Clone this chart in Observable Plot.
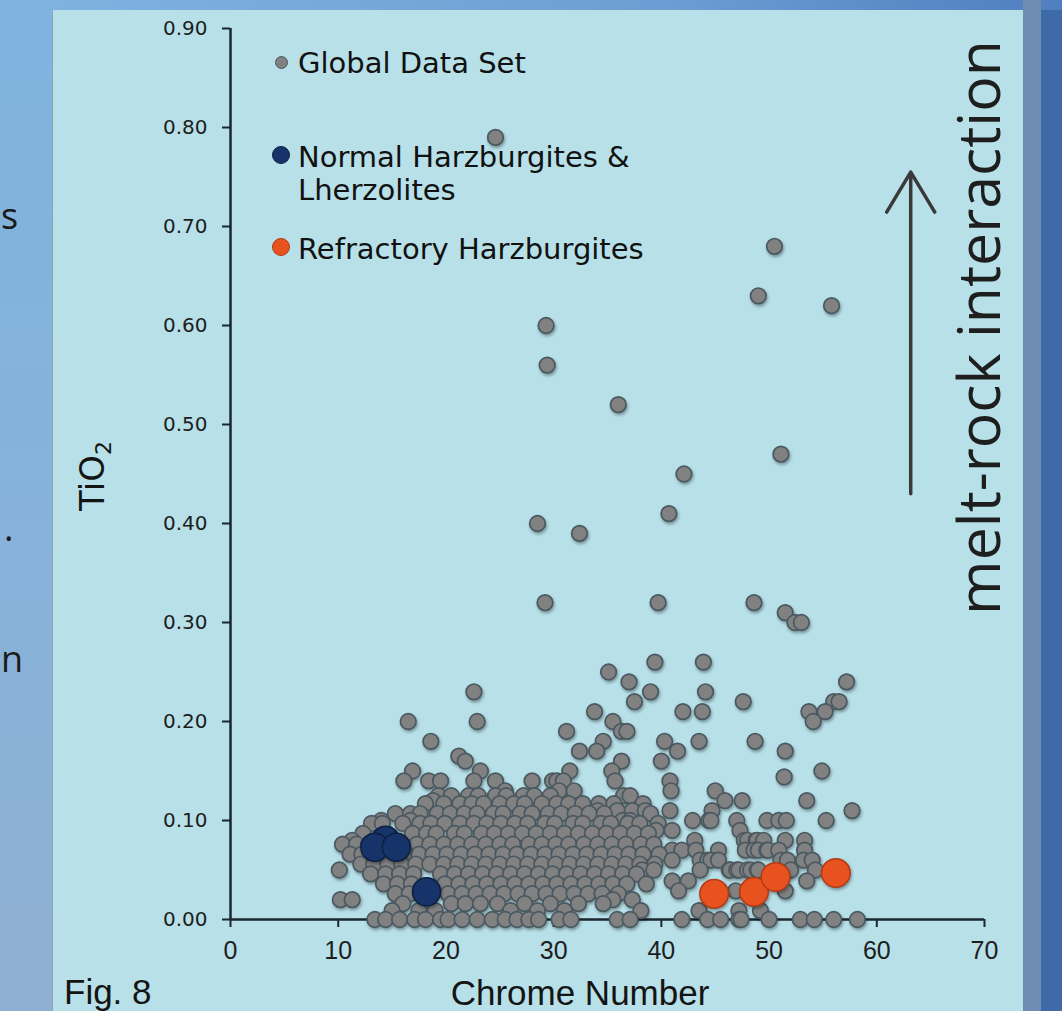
<!DOCTYPE html>
<html>
<head>
<meta charset="utf-8">
<script src="https://cdn.jsdelivr.net/npm/d3@7"></script>
<script src="https://cdn.jsdelivr.net/npm/@observablehq/plot@0.6"></script>
<style>
  html, body { margin: 0; padding: 0; width: 1062px; height: 1011px; overflow: hidden; background: #3e6ba7; font-family: "DejaVu Sans", sans-serif; }
  #leftbg { position: absolute; left: 0; top: 0; width: 52px; height: 1011px; background: linear-gradient(180deg, #7fb3df 0%, #86b2da 50%, #8fb0d2 100%); }
  #topbg { position: absolute; left: 0; top: 0; width: 1062px; height: 10px; background: linear-gradient(90deg, #80b4e0 0%, #6e9fd4 60%, #4f7fbf 100%); }
  #rightstrip { position: absolute; left: 1023px; top: 0; width: 18px; height: 1011px; background: #6f8db3; }
  #panel { position: absolute; left: 52px; top: 10px; width: 971px; height: 1001px; background: #b7e0e8; border-left: 1px solid #8fa6b0; box-sizing: border-box; }
  .frag { position: absolute; font-family: "Open Sans", sans-serif; font-size: 36px; color: #1a1a1a; line-height: 1; }
  #chart { position: absolute; left: 0; top: 0; }
  .lab { position: absolute; color: #141414; white-space: nowrap; line-height: 1; }
  .leg { position: absolute; font-family: "DejaVu Sans", sans-serif; font-size: 29px; color: #111; white-space: nowrap; line-height: 33px; }
  .sw { position: absolute; border-radius: 50%; box-sizing: border-box; }
</style>
</head>
<body>
<div id="leftbg"></div>
<div id="topbg"></div>
<div id="rightstrip"></div>
<div id="panel"></div>
<div class="frag" style="left:1px; top:198px;">s</div>
<div class="frag" style="left:4px; top:510px;">.</div>
<div class="frag" style="left:1px; top:641px;">n</div>
<div id="chart"></div>
<div class="lab" style="left:64px; top:974px; font-size:35px; font-family:'Liberation Sans', sans-serif;">Fig. 8</div>
<div class="lab" id="xlab" style="left:580px; top:975px; font-size:35px; font-family:'Liberation Sans', sans-serif; transform:translateX(-50%);">Chrome Number</div>
<div class="lab" id="ylab" style="left:95px; top:476px; font-size:34px; transform:translate(-50%,-50%) rotate(-90deg);">TiO<sub style="font-size:22px; vertical-align:-7px;">2</sub></div>
<div id="legend"></div>
<script>
// ---- Data ----
const xTicks = [0, 10, 20, 30, 40, 50, 60, 70];
const yTicks = [0, 0.1, 0.2, 0.3, 0.4, 0.5, 0.6, 0.7, 0.8, 0.9];

// Global data set: each row = [TiO2, [Chrome numbers at that TiO2]]
const globalRows = [
  [0.79, [24.6]],
  [0.68, [50.5]],
  [0.63, [49.0]],
  [0.62, [55.8]],
  [0.60, [29.3]],
  [0.56, [29.4]],
  [0.52, [36.0]],
  [0.47, [51.1]],
  [0.45, [42.1]],
  [0.41, [40.7]],
  [0.40, [28.5]],
  [0.39, [32.4]],
  [0.32, [29.2, 39.7, 48.6]],
  [0.31, [51.5]],
  [0.30, [52.4, 53.0]],
  [0.26, [39.4, 43.9]],
  [0.25, [35.1]],
  [0.24, [37.0, 57.2]],
  [0.23, [22.6, 39.0, 44.1]],
  [0.22, [37.5, 47.6, 56.0, 56.5]],
  [0.21, [33.8, 42.0, 43.8, 53.7, 55.2]],
  [0.20, [16.5, 22.9, 35.5, 54.1]],
  [0.19, [31.2, 36.3, 36.8]],
  [0.18, [18.6, 34.6, 40.3, 43.5, 48.7]],
  [0.17, [32.4, 34.0, 41.5, 51.5]],
  [0.165, [21.2]],
  [0.16, [21.8, 36.3, 40.0]],
  [0.15, [16.9, 23.2, 31.5, 35.4, 54.9]],
  [0.144, [51.4]],
  [0.14, [16.1, 18.4, 19.5, 22.6, 24.6, 28.0, 29.9, 30.3, 30.9, 35.7, 40.8]],
  [0.13, [25.5, 30.5, 31.9, 40.9, 45.0]],
  [0.125, [19.3, 20.5, 22.1, 23.0, 24.6, 25.6, 27.2, 28.2, 29.7, 36.5, 37.1]],
  [0.12, [18.8, 45.9, 47.5, 53.5]],
  [0.117, [18.1, 19.8, 21.3, 22.4, 23.5, 25.0, 26.3, 27.3, 28.9, 30.3, 31.4, 32.7, 34.2, 35.6, 38.3]],
  [0.11, [34.1, 35.9, 37.3, 38.5, 40.8, 44.7, 57.7]],
  [0.107, [15.3, 16.7, 17.6, 19.2, 20.4, 21.7, 22.9, 24.4, 25.3, 26.9, 28.0, 29.5, 30.7, 32.0, 33.3, 34.7, 39.0]],
  [0.10, [14.0, 16.7, 36.4, 37.1, 42.9, 44.4, 44.6, 47.0, 49.8, 50.9, 51.6, 55.3]],
  [0.097, [13.1, 14.1, 16.0, 17.6, 18.6, 19.9, 21.3, 22.6, 23.8, 25.1, 26.4, 27.6, 29.2, 30.1, 31.8, 32.7, 34.4, 35.3, 36.9, 38.0, 39.7]],
  [0.09, [39.5, 41.0, 47.3]],
  [0.087, [12.3, 16.9, 18.2, 19.1, 20.8, 21.7, 23.3, 24.5, 25.8, 27.1, 28.4, 29.7, 31.0, 32.3, 33.6, 34.9, 36.2, 37.5, 38.8]],
  [0.08, [11.3, 43.1, 47.7, 48.0, 48.8, 48.9, 49.5, 51.5, 53.3]],
  [0.076, [10.4, 11.7, 12.8, 17.3, 18.5, 19.8, 21.1, 22.4, 23.7, 25.0, 26.2, 27.7, 28.9, 30.2, 31.4, 32.8, 34.1, 35.4, 36.7, 38.1, 39.3]],
  [0.07, [41.0, 41.9, 43.2, 45.3, 47.8, 48.6, 49.0, 49.8, 49.9, 50.9, 53.3]],
  [0.066, [11.1, 12.2, 16.3, 17.5, 18.8, 20.1, 21.4, 22.7, 24.0, 25.3, 26.6, 27.9, 29.2, 30.5, 31.8, 33.1, 34.4, 35.7, 37.0, 38.3, 39.8]],
  [0.06, [41.0, 43.6, 44.3, 44.6, 45.3, 51.1, 51.7, 53.2, 54.0]],
  [0.056, [12.1, 13.3, 14.6, 15.9, 17.2, 18.5, 19.8, 21.1, 22.4, 23.7, 25.0, 26.3, 27.6, 28.9, 30.2, 31.5, 32.8, 34.1, 35.4, 36.7, 38.0, 39.4]],
  [0.05, [10.1, 38.2, 39.3, 43.6, 46.3, 46.4, 47.0, 47.2, 48.0, 48.3, 48.9, 49.0, 52.0, 54.3]],
  [0.046, [13.0, 14.4, 15.7, 17.0, 19.5, 20.8, 22.1, 23.4, 24.7, 26.0, 27.3, 28.6, 29.9, 31.2, 32.5, 33.8, 35.1, 36.4, 37.7]],
  [0.039, [41.0, 42.5, 53.5]],
  [0.036, [14.2, 15.5, 16.8, 19.9, 21.2, 22.5, 23.8, 25.1, 26.4, 27.7, 29.0, 30.3, 31.6, 32.9, 34.2, 35.5, 36.8, 38.6]],
  [0.029, [41.6, 46.9, 51.5]],
  [0.026, [15.3, 16.6, 20.2, 21.5, 22.8, 24.1, 25.4, 26.7, 28.0, 29.3, 30.6, 31.9, 33.2, 34.5, 36.0]],
  [0.02, [10.2, 11.3, 35.5, 37.3]],
  [0.016, [16.0, 20.5, 21.8, 23.2, 24.8, 27.3, 29.7, 32.3, 34.6]],
  [0.009, [15.0, 17.5, 19.0, 26.0, 28.5, 31.0, 38.1, 43.5, 47.2, 49.2]],
  [0.0, [13.4, 14.4, 15.7, 17.1, 18.1, 19.5, 20.2, 21.5, 22.9, 24.3, 25.5, 26.6, 27.7, 28.6, 30.5, 31.6, 35.9, 37.1, 41.9, 44.3, 45.5, 47.2, 47.4, 50.0, 52.9, 54.2, 56.0, 58.2]]
];

const normalCr = [14.4, 13.4, 15.4, 18.2];
const normalTi = [0.080, 0.073, 0.073, 0.028];

const refractoryCr = [44.9, 48.6, 50.6, 56.2];
const refractoryTi = [0.026, 0.028, 0.043, 0.047];

const seriesColors = ["#818181", "#17346a", "#e8521f"];
const seriesStrokes = ["#4a5860", "#0d1f42", "#b23b15"];

// annotation (data coordinates)
const annotation = [{x: 69.7, y: 0.598, label: "melt-rock interaction"}];
const trendArrow = [{x: 63.15, y1: 0.430, y2: 0.755}];

// ---- build tables ----
const globalData = globalRows.flatMap(([ti, crs]) => crs.map(cr => ({cr, ti})));
const normalData = normalCr.map((cr, i) => ({cr, ti: normalTi[i]}));
const refractoryData = refractoryCr.map((cr, i) => ({cr, ti: refractoryTi[i]}));

const axisColor = "#1b2731";

const chart = Plot.plot({
  width: 1062,
  height: 1011,
  marginLeft: 230,
  marginRight: 78,
  marginTop: 28,
  marginBottom: 92,
  x: {domain: [0, 70]},
  y: {domain: [0, 0.9]},
  style: {background: "transparent", fontFamily: "DejaVu Sans, sans-serif", color: "#1a1a1a", overflow: "visible"},
  marks: [
    Plot.axisY({ticks: yTicks, tickFormat: d3.format(".2f"), tickSize: 8, tickPadding: 15, label: null, stroke: axisColor, strokeWidth: 2, fill: "#1d1d1d"}),
    Plot.axisX({ticks: xTicks, tickFormat: d3.format("d"), tickSize: 8, tickPadding: 14, label: null, stroke: axisColor, strokeWidth: 2, fill: "#1d1d1d"}),
    Plot.ruleX([0], {y1: 0, y2: 0.9, stroke: axisColor, strokeWidth: 2.5}),
    Plot.ruleY([0], {x1: 0, x2: 70, stroke: axisColor, strokeWidth: 2.5}),
    Plot.dot(globalData, {x: "cr", y: "ti", r: 7.8, fill: seriesColors[0], stroke: seriesStrokes[0], strokeWidth: 1.7}),
    Plot.dot(normalData, {x: "cr", y: "ti", r: 14, fill: seriesColors[1], stroke: seriesStrokes[1], strokeWidth: 1.5}),
    Plot.dot(refractoryData, {x: "cr", y: "ti", r: 14.3, fill: seriesColors[2], stroke: seriesStrokes[2], strokeWidth: 1.5}),
    Plot.arrow(trendArrow, {x1: "x", x2: "x", y1: "y1", y2: "y2", stroke: "#3a3a3a", strokeWidth: 3.5, headLength: 20, headAngle: 62}),
    Plot.text(annotation, {x: "x", y: "y", text: "label", rotate: -90, fontSize: 59, fontFamily: "Open Sans, sans-serif", fontWeight: 400, fill: "#1e1e1e"})
  ]
});
document.getElementById("chart").appendChild(chart);

// tick-label fonts
const svg = d3.select(chart);
svg.selectAll("g[aria-label='y-axis tick label'] text").style("font-size", "20px").style("font-family", "DejaVu Sans, sans-serif");
svg.selectAll("g[aria-label='x-axis tick label'] text").style("font-size", "25px").style("font-family", "'Liberation Sans Narrow', 'Liberation Sans', sans-serif");

// soft shadow under the dots, as in the reference
svg.selectAll("g[aria-label='dot']").style("filter", "drop-shadow(1px 2px 1.5px rgba(0,0,0,0.35))");

// ---- legend (inside the panel, top-left) ----
const legend = document.getElementById("legend");
const legendItems = [
  {i: 0, cy: 62, r: 6.5, lines: ["Global Data Set"], top: 47},
  {i: 1, cy: 155, r: 9, lines: ["Normal Harzburgites &amp;", "Lherzolites"], top: 141},
  {i: 2, cy: 247, r: 9, lines: ["Refractory Harzburgites"], top: 233}
];
legendItems.forEach(item => {
  const sw = document.createElement("div");
  sw.className = "sw";
  sw.style.left = (281 - item.r) + "px";
  sw.style.top = (item.cy - item.r) + "px";
  sw.style.width = (2 * item.r) + "px";
  sw.style.height = (2 * item.r) + "px";
  sw.style.background = seriesColors[item.i];
  sw.style.border = "1px solid " + seriesStrokes[item.i];
  legend.appendChild(sw);
  const t = document.createElement("div");
  t.className = "leg";
  t.style.left = "298px";
  t.style.top = item.top + "px";
  t.innerHTML = item.lines.join("<br>");
  legend.appendChild(t);
});
</script>
</body>
</html>
